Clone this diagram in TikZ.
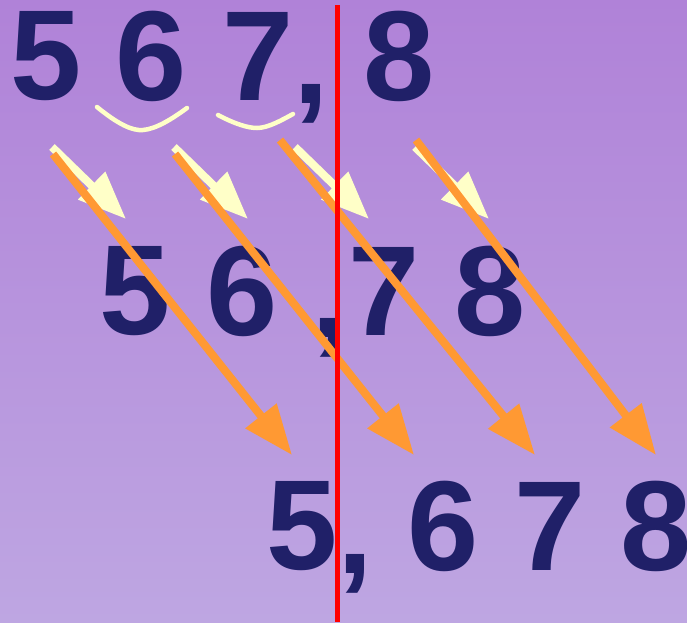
\documentclass[tikz,border=0pt]{standalone}
\usepackage{fontspec}
\setmainfont{Liberation Sans}
\usetikzlibrary{arrows.meta}

\definecolor{digitblue}{RGB}{32,32,104}
\definecolor{creamy}{RGB}{255,255,200}
\definecolor{carryorange}{RGB}{255,153,51}
\definecolor{bgtop}{RGB}{176,130,216}
\definecolor{bgbottom}{RGB}{190,166,226}

\begin{document}
\begin{tikzpicture}[
  x=1pt, y=-1pt,
  digit/.style={inner sep=0pt, outer sep=0pt, text=digitblue, font=\fontsize{128}{128}\selectfont\bfseries},
  commamark/.style={digit, anchor=base},
  creamarrow/.style={-{Triangle[length=48pt, width=37pt]}, line width=8pt, draw=creamy, color=creamy},
  orangearrow/.style={-{Triangle[length=50pt, width=38pt]}, line width=8pt, draw=carryorange, color=carryorange},
  brace/.style={draw=creamy, line width=4.5pt, line cap=round},
  divider/.style={draw=red, line width=5pt}
]

\path[use as bounding box] (0,0) rectangle (687,622);
\shade[top color=bgtop, bottom color=bgbottom] (0,0) rectangle (687,622);

% Braces under the first row
\draw[brace] (97,107) .. controls (118,124) and (132,131) .. (143,130) .. controls (156,129) and (172,119) .. (187,108);
\draw[brace] (218,115) .. controls (235,124) and (248,128) .. (257,128) .. controls (268,128) and (282,120) .. (293,114);

% First row
\node[digit] (a5) at (46,56.5) {5};
\node[digit] (a6) at (151.5,56.5) {6};
\node[digit] (a7) at (258.5,56.5) {7};
\node[commamark] (acomma) at (311,103) {,};
\node[digit] (a8) at (399.5,56.5) {8};

% Second row
\node[digit] (b5) at (135.5,291) {5};
\node[digit] (b6) at (242.5,291) {6};
\node[commamark] (bcomma) at (329,337) {,};
\node[digit] (b7) at (384,291) {7};
\node[digit] (b8) at (490,291) {8};

% Third row
\node[digit] (c5) at (302.5,526) {5};
\node[commamark] (ccomma) at (355,573) {,};
\node[digit] (c6) at (443.5,526) {6};
\node[digit] (c7) at (550,526) {7};
\node[digit] (c8) at (656.5,526) {8};

% Arrow ends
\coordinate (h1s) at (52,147);  \coordinate (h1e) at (126,219);
\coordinate (h2s) at (174,147); \coordinate (h2e) at (248,219);
\coordinate (h3s) at (295,147); \coordinate (h3e) at (369,219);
\coordinate (h4s) at (415,147); \coordinate (h4e) at (489,219);
\coordinate (m1s) at (53,154);  \coordinate (m1e) at (292,455);
\coordinate (m2s) at (175,154); \coordinate (m2e) at (414,455);
\coordinate (m3s) at (280,140); \coordinate (m3e) at (535,455);
\coordinate (m4s) at (416,140); \coordinate (m4e) at (656,455);

% Short cream arrows
\draw[creamarrow] (h1s) -- (h1e);
\draw[creamarrow] (h2s) -- (h2e);
\draw[creamarrow] (h3s) -- (h3e);
\draw[creamarrow] (h4s) -- (h4e);

% Long orange arrows
\draw[orangearrow] (m1s) -- (m1e);
\draw[orangearrow] (m2s) -- (m2e);
\draw[orangearrow] (m3s) -- (m3e);
\draw[orangearrow] (m4s) -- (m4e);

% Decimal divider
\coordinate (top) at (337.5,5);
\coordinate (bottom) at (337.5,622);
\draw[divider] (top) -- (bottom);

\end{tikzpicture}
\end{document}
